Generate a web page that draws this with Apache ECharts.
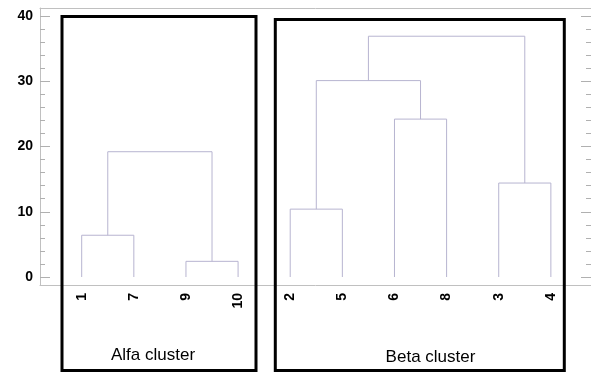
<!DOCTYPE html>
<html>
<head>
<meta charset="utf-8">
<script src="https://cdn.jsdelivr.net/npm/echarts@6/dist/echarts.min.js"></script>
<style>
html,body{margin:0;padding:0;background:#fff;}
#chart{width:591px;height:372px;}
</style>
</head>
<body>
<div id="chart"></div>
<script>
// Leaf order along the x axis
const leafLabels = ['1', '7', '9', '10', '2', '5', '6', '8', '3', '4'];
// Merges: children are leaves ('L' + index) or earlier merges ('M' + index)
const mergeLeft   = ['L0', 'L2', 'M0', 'L4', 'L6', 'M3', 'L8', 'M5'];
const mergeRight  = ['L1', 'L3', 'M1', 'L5', 'L7', 'M4', 'L9', 'M6'];
const mergeHeight = [6.4, 2.4, 19.2, 10.4, 24.2, 30.1, 14.4, 36.9];
// Y tick labels
const yTicks = [0, 10, 20, 30, 40];
// Cluster annotations
const clusterNames = ['Alfa cluster', 'Beta cluster'];

const leafPos = leafLabels.map((_, i) => i + 1);
const xMin = 0.2, xMax = 10.77;
const nodes = {};
leafLabels.forEach((_, i) => { nodes['L' + i] = [leafPos[i], 0]; });
const series = [];
mergeHeight.forEach((h, k) => {
  const a = nodes[mergeLeft[k]], b = nodes[mergeRight[k]];
  nodes['M' + k] = [(a[0] + b[0]) / 2, h];
  series.push({
    type: 'line', xAxisIndex: 2, yAxisIndex: 1, silent: true,
    symbol: 'none', animation: false,
    lineStyle: { color: '#b7b4d0', width: 1 },
    data: [[a[0], a[1]], [a[0], h], [b[0], h], [b[0], b[1]]]
  });
});

const gridLine = { show: true, onZero: false, lineStyle: { color: '#c0c0c0', width: 1 } };
const chart = echarts.init(document.getElementById('chart'), null, { renderer: 'canvas' });
chart.setOption({
  animation: false,
  backgroundColor: '#ffffff',
  grid: [
    { left: 40, right: 0, top: 8, bottom: 87 },
    { left: 40, right: 0, top: 16, bottom: 95 }
  ],
  xAxis: [
    { gridIndex: 0, type: 'value', min: xMin, max: xMax, position: 'bottom',
      axisLine: gridLine, axisTick: { show: false }, splitLine: { show: false },
      axisLabel: { customValues: leafPos, rotate: 90, margin: 8,
        formatter: v => leafLabels[Math.round(v) - 1],
        fontFamily: 'Liberation Sans, Arial, sans-serif', fontWeight: 'bold', fontSize: 14, color: '#000' } },
    { gridIndex: 0, type: 'value', min: xMin, max: xMax, position: 'top',
      axisLine: gridLine, axisTick: { show: false }, axisLabel: { show: false }, splitLine: { show: false } },
    { gridIndex: 1, type: 'value', min: xMin, max: xMax, show: false, splitLine: { show: false } }
  ],
  yAxis: [
    { gridIndex: 0, type: 'value', min: 0, max: 1, position: 'left',
      axisLine: gridLine, axisTick: { show: false }, axisLabel: { show: false }, splitLine: { show: false } },
    { gridIndex: 1, type: 'value', min: yTicks[0], max: yTicks[yTicks.length - 1], interval: 10, position: 'left',
      axisLine: { show: false },
      axisTick: { show: true, inside: true, length: 10, lineStyle: { color: '#b0b0b0' } },
      minorTick: { show: true, splitNumber: 5, length: 5, lineStyle: { color: '#b0b0b0' } },
      splitLine: { show: false },
      axisLabel: { margin: 7, fontFamily: 'Liberation Sans, Arial, sans-serif', fontWeight: 'bold', fontSize: 14, color: '#000' } },
    { gridIndex: 1, type: 'value', min: yTicks[0], max: yTicks[yTicks.length - 1], interval: 10, position: 'right',
      axisLine: { show: false },
      axisTick: { show: true, inside: true, length: 10, lineStyle: { color: '#b0b0b0' } },
      minorTick: { show: true, splitNumber: 5, length: 5, lineStyle: { color: '#b0b0b0' } },
      splitLine: { show: false }, axisLabel: { show: false } }
  ],
  series: series,
  graphic: [
    { type: 'rect', z: 100, silent: true, shape: { x: 62, y: 16.5, width: 194, height: 354 },
      style: { fill: 'none', stroke: '#000', lineWidth: 3 } },
    { type: 'rect', z: 100, silent: true, shape: { x: 275.3, y: 19.5, width: 289, height: 351 },
      style: { fill: 'none', stroke: '#000', lineWidth: 3 } },
    { type: 'text', z: 100, silent: true, x: 153, y: 355,
      style: { text: clusterNames[0], fill: '#000', font: '17px "Liberation Sans", Arial, sans-serif',
        textAlign: 'center', textVerticalAlign: 'middle' } },
    { type: 'text', z: 100, silent: true, x: 430.5, y: 357,
      style: { text: clusterNames[1], fill: '#000', font: '17px "Liberation Sans", Arial, sans-serif',
        textAlign: 'center', textVerticalAlign: 'middle' } }
  ]
});
</script>
</body>
</html>
